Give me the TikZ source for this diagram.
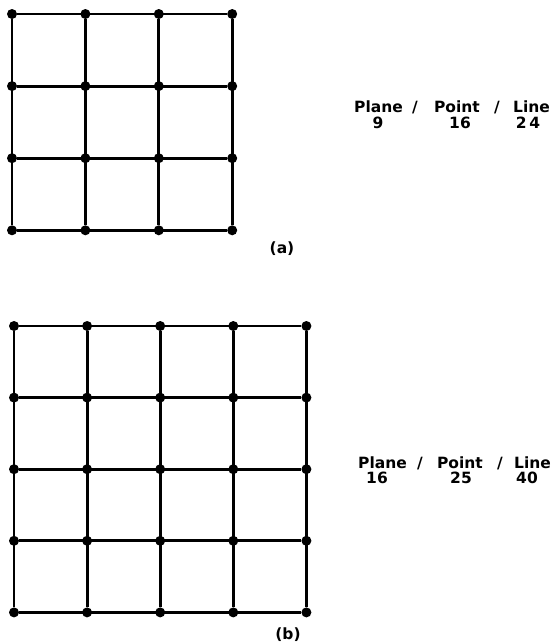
\documentclass[tikz,border=0pt]{standalone}
\usepackage{fontspec}
\setmainfont{DejaVu Sans}
\usetikzlibrary{positioning}

\tikzset{
  dot/.style={circle, fill=black, inner sep=0pt, minimum size=10pt},
  edge/.style={line width=2.9pt},
  word/.style={font=\fontsize{15.5}{15.5}\selectfont\bfseries, inner sep=0pt, anchor=base},
  caption/.style={font=\fontsize{15.5}{15.5}\selectfont\bfseries, inner sep=0pt}
}

\begin{document}
\begin{tikzpicture}[x=1pt, y=-1pt]
  \useasboundingbox (0,0) rectangle (551,643);

  % Gitter (a): 3 x 3 Felder
  \foreach \i in {0,...,3}
    \foreach \j in {0,...,3}
      \node[dot] (a\i\j) at ({12+73.4*\i},{14+72.1*\j}) {};
  \foreach \i in {0,...,3} {
    \draw[edge] (a\i0) -- (a\i3);
    \draw[edge] (a0\i) -- (a3\i);
  }
  \node[caption] (capA) at (282,249) {(a)};

  % Zahlen fuer (a)
  \node[word] (planeA) at (378.5,112) {Plane};
  \node[word] (slA1) at (415,112) {/};
  \node[word] (pointA) at (457,112) {Point};
  \node[word] (slA2) at (497,112) {/};
  \node[word] (lineA) at (531.5,112) {Line};
  \node[word] (nPlaneA) at (378,128) {9};
  \node[word] (nPointA) at (460,128) {16};
  \node[word] (nLineA) at (528,128) {2\,4};

  % Gitter (b): 4 x 4 Felder
  \foreach \i in {0,...,4}
    \foreach \j in {0,...,4}
      \node[dot] (b\i\j) at ({14+73.1*\i},{326+71.6*\j}) {};
  \foreach \i in {0,...,4} {
    \draw[edge] (b\i0) -- (b\i4);
    \draw[edge] (b0\i) -- (b4\i);
  }
  \node[caption] (capB) at (288,635) {(b)};

  % Zahlen fuer (b)
  \node[word] (planeB) at (382.5,468) {Plane};
  \node[word] (slB1) at (420,468) {/};
  \node[word] (pointB) at (460,468) {Point};
  \node[word] (slB2) at (500,468) {/};
  \node[word] (lineB) at (532.5,468) {Line};
  \node[word] (nPlaneB) at (377,483.5) {16};
  \node[word] (nPointB) at (461,483.5) {25};
  \node[word] (nLineB) at (527,483.5) {40};
\end{tikzpicture}
\end{document}
